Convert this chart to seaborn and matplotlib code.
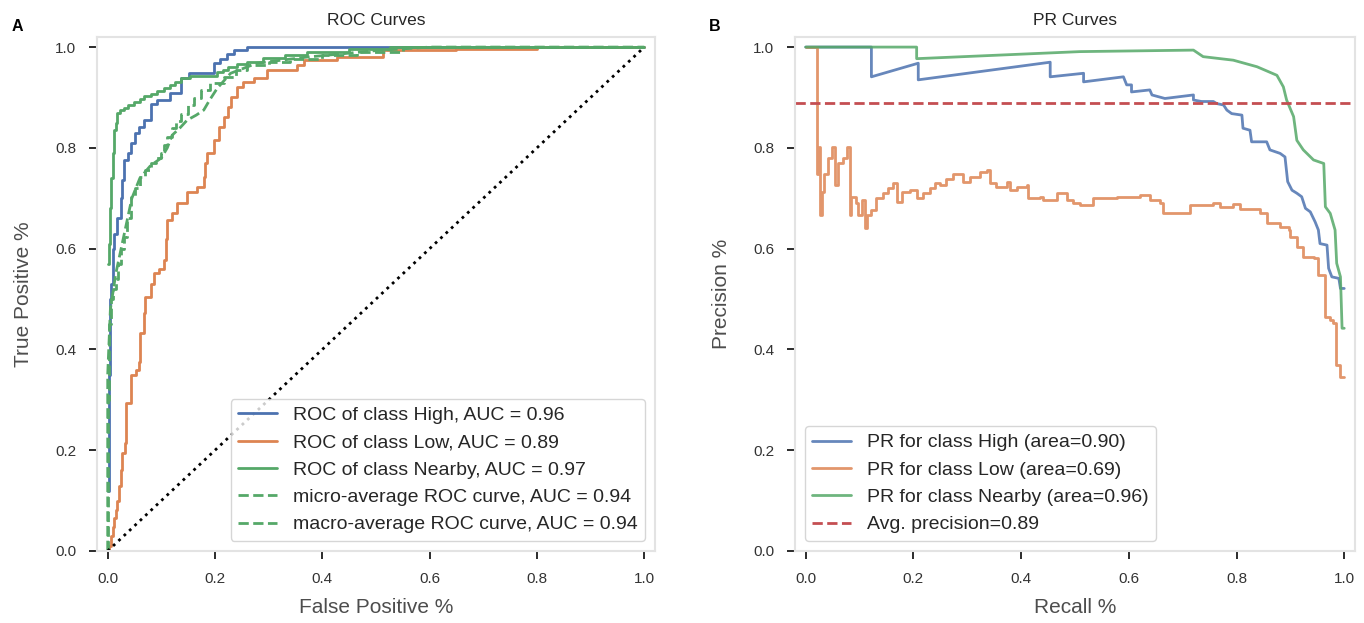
import matplotlib
matplotlib.use("Agg")
import matplotlib.pyplot as plt
import seaborn as sns
import pandas as pd

# ---------------- ROC curve data (fpr, tpr); steps drawn "post" ----------------
roc_high_fpr = [0.0, 0.002, 0.004, 0.006, 0.009, 0.012, 0.018, 0.024, 0.027, 0.030, 0.037,
                0.043, 0.050, 0.058, 0.068, 0.080, 0.092, 0.117, 0.136, 0.151, 0.198, 0.210,
                0.222, 0.235, 0.260, 0.359, 1.0]
roc_high_tpr = [0.12, 0.35, 0.50, 0.53, 0.60, 0.63, 0.66, 0.70, 0.736, 0.776, 0.79,
                0.81, 0.829, 0.842, 0.855, 0.888, 0.895, 0.908, 0.938, 0.948, 0.968, 0.977,
                0.987, 0.994, 1.0, 1.0, 1.0]

roc_low_fpr = [0.0, 0.003, 0.006, 0.009, 0.012, 0.015, 0.018, 0.021, 0.024, 0.027, 0.033,
               0.035, 0.043, 0.052, 0.058, 0.061, 0.068, 0.070, 0.080, 0.086, 0.095, 0.105,
               0.108, 0.111, 0.120, 0.130, 0.148, 0.167, 0.179, 0.182, 0.185, 0.198, 0.207,
               0.216, 0.225, 0.229, 0.241, 0.253, 0.272, 0.297, 0.353, 0.365, 0.427, 0.514,
               0.650, 0.800, 1.0]
roc_low_tpr = [0.0, 0.009, 0.030, 0.048, 0.065, 0.081, 0.100, 0.128, 0.160, 0.194, 0.214,
               0.293, 0.349, 0.360, 0.376, 0.432, 0.472, 0.505, 0.530, 0.551, 0.560, 0.577,
               0.620, 0.657, 0.670, 0.690, 0.713, 0.723, 0.743, 0.770, 0.789, 0.815, 0.842,
               0.862, 0.882, 0.901, 0.921, 0.931, 0.938, 0.954, 0.964, 0.974, 0.981, 0.994,
               0.997, 1.0, 1.0]

roc_nearby_fpr = [0.0, 0.002, 0.004, 0.006, 0.009, 0.012, 0.015, 0.018, 0.022, 0.030, 0.037,
                  0.049, 0.060, 0.068, 0.080, 0.092, 0.105, 0.117, 0.126, 0.136, 0.154, 0.204,
                  0.215, 0.225, 0.241, 0.260, 0.290, 0.330, 0.371, 0.450, 0.526, 0.600, 1.0]
roc_nearby_tpr = [0.57, 0.61, 0.68, 0.74, 0.79, 0.835, 0.85, 0.869, 0.875, 0.879, 0.885,
                  0.892, 0.897, 0.903, 0.907, 0.912, 0.918, 0.925, 0.930, 0.938, 0.942, 0.950,
                  0.955, 0.961, 0.966, 0.971, 0.978, 0.984, 0.990, 0.997, 1.0, 1.0, 1.0]

roc_micro_fpr = [0.0, 0.001, 0.003, 0.006, 0.010, 0.015, 0.020, 0.024, 0.030, 0.036, 0.043,
                 0.050, 0.061, 0.070, 0.080, 0.090, 0.099, 0.105, 0.111, 0.120, 0.128, 0.136,
                 0.150, 0.160, 0.173, 0.190, 0.216, 0.240, 0.260, 0.300, 0.340, 0.400, 0.464,
                 0.550, 1.0]
roc_micro_tpr = [0.0, 0.30, 0.45, 0.50, 0.52, 0.54, 0.57, 0.60, 0.624, 0.66, 0.703,
                 0.72, 0.743, 0.757, 0.77, 0.78, 0.79, 0.805, 0.822, 0.84, 0.853, 0.868,
                 0.885, 0.898, 0.915, 0.928, 0.941, 0.955, 0.964, 0.971, 0.977, 0.984, 0.990,
                 1.0, 1.0]

roc_macro_fpr = [0.0, 0.0, 0.005, 0.015, 0.025, 0.035, 0.045, 0.060, 0.080, 0.100, 0.111,
                 0.120, 0.135, 0.148, 0.165, 0.179, 0.190, 0.204, 0.229, 0.278, 0.370, 0.500,
                 0.600, 1.0]
roc_macro_tpr = [0.0, 0.35, 0.48, 0.55, 0.60, 0.65, 0.70, 0.74, 0.765, 0.78, 0.80,
                 0.825, 0.84, 0.855, 0.865, 0.875, 0.895, 0.918, 0.948, 0.968, 0.98, 0.993,
                 1.0, 1.0]

roc_labels = ["ROC of class High, AUC = 0.96",
              "ROC of class Low, AUC = 0.89",
              "ROC of class Nearby, AUC = 0.97",
              "micro-average ROC curve, AUC = 0.94",
              "macro-average ROC curve, AUC = 0.94"]

# ---------------- Precision-recall data (recall, precision) ----------------
pr_high_recall = [0.000, 0.122, 0.122, 0.209, 0.209, 0.454, 0.454, 0.516, 0.516, 0.590, 0.596,
                  0.605, 0.605, 0.639, 0.643, 0.667, 0.720, 0.720, 0.735, 0.757, 0.763, 0.776,
                  0.782, 0.791, 0.810, 0.812, 0.825, 0.828, 0.856, 0.862, 0.881, 0.890, 0.895,
                  0.903, 0.912, 0.921, 0.928, 0.937, 0.946, 0.952, 0.955, 0.968, 0.971, 0.977,
                  0.990, 0.993, 1.000]
pr_high_precision = [1.000, 1.000, 0.941, 0.968, 0.935, 0.970, 0.941, 0.948, 0.931, 0.941, 0.925,
                     0.925, 0.911, 0.915, 0.905, 0.898, 0.905, 0.895, 0.892, 0.892, 0.888, 0.885,
                     0.875, 0.868, 0.865, 0.839, 0.835, 0.812, 0.812, 0.796, 0.789, 0.782, 0.733,
                     0.716, 0.710, 0.703, 0.680, 0.673, 0.653, 0.637, 0.610, 0.607, 0.561, 0.544,
                     0.541, 0.521, 0.521]

pr_low_recall = [0.000, 0.021, 0.025, 0.027, 0.031, 0.034, 0.042, 0.048, 0.054, 0.060, 0.069,
                 0.076, 0.082, 0.085, 0.094, 0.097, 0.104, 0.110, 0.113, 0.122, 0.131, 0.144,
                 0.153, 0.162, 0.169, 0.178, 0.193, 0.206, 0.218, 0.231, 0.240, 0.249, 0.261,
                 0.274, 0.292, 0.305, 0.323, 0.336, 0.342, 0.354, 0.373, 0.379, 0.392, 0.410,
                 0.413, 0.435, 0.441, 0.466, 0.485, 0.497, 0.509, 0.534, 0.578, 0.621, 0.639,
                 0.658, 0.664, 0.714, 0.757, 0.770, 0.794, 0.807, 0.844, 0.856, 0.881, 0.897,
                 0.900, 0.912, 0.924, 0.943, 0.952, 0.965, 0.974, 0.980, 0.985, 0.993, 1.000]
pr_low_precision = [1.000, 0.749, 0.802, 0.667, 0.713, 0.749, 0.779, 0.802, 0.726, 0.769, 0.779,
                    0.802, 0.667, 0.703, 0.690, 0.667, 0.697, 0.640, 0.667, 0.677, 0.700, 0.710,
                    0.720, 0.730, 0.693, 0.713, 0.716, 0.700, 0.710, 0.720, 0.730, 0.726, 0.739,
                    0.749, 0.733, 0.743, 0.753, 0.756, 0.730, 0.723, 0.733, 0.716, 0.723, 0.726,
                    0.700, 0.703, 0.697, 0.710, 0.697, 0.690, 0.686, 0.700, 0.703, 0.706, 0.697,
                    0.690, 0.670, 0.686, 0.691, 0.683, 0.688, 0.679, 0.670, 0.650, 0.643, 0.637,
                    0.624, 0.604, 0.584, 0.581, 0.548, 0.465, 0.458, 0.452, 0.369, 0.346, 0.346]

pr_nearby_recall = [0.000, 0.206, 0.206, 0.509, 0.720, 0.738, 0.794, 0.838, 0.875, 0.887, 0.893,
                    0.906, 0.912, 0.924, 0.943, 0.962, 0.965, 0.974, 0.983, 0.986, 0.993, 0.996,
                    1.000]
pr_nearby_precision = [1.000, 1.000, 0.977, 0.991, 0.994, 0.981, 0.974, 0.961, 0.944, 0.921, 0.895,
                       0.862, 0.815, 0.796, 0.776, 0.769, 0.683, 0.670, 0.637, 0.571, 0.544, 0.442,
                       0.442]

avg_precision = 0.89

pr_labels = ["PR for class High (area=0.90)",
             "PR for class Low (area=0.69)",
             "PR for class Nearby (area=0.96)",
             "Avg. precision=0.89"]

# ---------------- Style ----------------
sns.set_theme(style="ticks", palette="deep")
plt.rcParams["font.family"] = ["Liberation Sans", "DejaVu Sans"]
plt.rcParams.update({
    "axes.edgecolor": "#e3e3e3",
    "axes.linewidth": 1.5,
    "xtick.color": ".1",
    "ytick.color": ".1",
    "xtick.labelcolor": ".2",
    "ytick.labelcolor": ".2",
    "xtick.major.size": 6,
    "ytick.major.size": 6,
    "xtick.major.width": 1.3,
    "ytick.major.width": 1.3,
    "legend.edgecolor": ".8",
})
pal = sns.color_palette("deep")
c_blue, c_orange, c_green, c_red = pal[0], pal[1], pal[2], pal[3]

fig = plt.figure(figsize=(13.64, 6.23), dpi=100)
ax1 = fig.add_axes([0.0711, 0.1156, 0.4091, 0.8250])
ax2 = fig.add_axes([0.5828, 0.1156, 0.4106, 0.8250])

LW = 2.0

# ---------------- ROC panel ----------------
roc_sets = [
    (roc_high_fpr, roc_high_tpr, c_blue, "-", "steps-post"),
    (roc_low_fpr, roc_low_tpr, c_orange, "-", "steps-post"),
    (roc_nearby_fpr, roc_nearby_tpr, c_green, "-", "steps-post"),
    (roc_micro_fpr, roc_micro_tpr, c_green, "--", "steps-post"),
    (roc_macro_fpr, roc_macro_tpr, c_green, "--", "default"),
]
for (fx, ty, col, ls, ds), lab in zip(roc_sets, roc_labels):
    df = pd.DataFrame({"fpr": fx, "tpr": ty})
    sns.lineplot(data=df, x="fpr", y="tpr", ax=ax1, estimator=None, sort=False,
                 color=col, linestyle=ls, linewidth=LW, drawstyle=ds, label=lab)

sns.lineplot(x=[0, 1], y=[0, 1], ax=ax1, estimator=None, sort=False,
             color="black", linestyle=":", linewidth=2.0)

ax1.set_xlim(-0.02, 1.02)
ax1.set_ylim(0.0, 1.02)
ax1.set_xticks([0.0, 0.2, 0.4, 0.6, 0.8, 1.0])
ax1.set_yticks([0.0, 0.2, 0.4, 0.6, 0.8, 1.0])
ax1.set_title("ROC Curves", fontsize=12.5, color=".15", pad=9)
ax1.set_xlabel("False Positive %", fontsize=15, color=".3", labelpad=9)
ax1.set_ylabel("True Positive %", fontsize=15, color=".3", labelpad=16)
ax1.legend(loc="lower right", fontsize=14, frameon=True, handlelength=2.0)

# ---------------- PR panel ----------------
pr_sets = [
    (pr_high_recall, pr_high_precision, c_blue),
    (pr_low_recall, pr_low_precision, c_orange),
    (pr_nearby_recall, pr_nearby_precision, c_green),
]
for i, ((rx, py, col), lab) in enumerate(zip(pr_sets, pr_labels[:3])):
    df = pd.DataFrame({"recall": rx, "precision": py})
    ds = "steps-post" if i == 1 else "default"
    sns.lineplot(data=df, x="recall", y="precision", ax=ax2, estimator=None, sort=False,
                 color=col, linewidth=LW, alpha=0.85, drawstyle=ds, label=lab)

ax2.axhline(avg_precision, color=c_red, linestyle="--", linewidth=LW, label=pr_labels[3])

ax2.set_xlim(-0.02, 1.02)
ax2.set_ylim(0.0, 1.02)
ax2.set_xticks([0.0, 0.2, 0.4, 0.6, 0.8, 1.0])
ax2.set_yticks([0.0, 0.2, 0.4, 0.6, 0.8, 1.0])
ax2.set_title("PR Curves", fontsize=12.5, color=".15", pad=9)
ax2.set_xlabel("Recall %", fontsize=15, color=".3", labelpad=9)
ax2.set_ylabel("Precision %", fontsize=15, color=".3", labelpad=16)
ax2.legend(loc="lower left", fontsize=14, frameon=True, handlelength=2.0)

for ax in (ax1, ax2):
    for sp in ax.spines.values():
        sp.set_visible(True)
        sp.set_color("#e3e3e3")
        sp.set_linewidth(1.5)
    ax.tick_params(axis="both", labelsize=11, pad=9)

fig.text(0.0088, 0.97, "A", fontsize=11.5, fontweight="bold", color="black", va="top")
fig.text(0.5198, 0.97, "B", fontsize=11.5, fontweight="bold", color="black", va="top")

fig.savefig("out.png", dpi=100)
